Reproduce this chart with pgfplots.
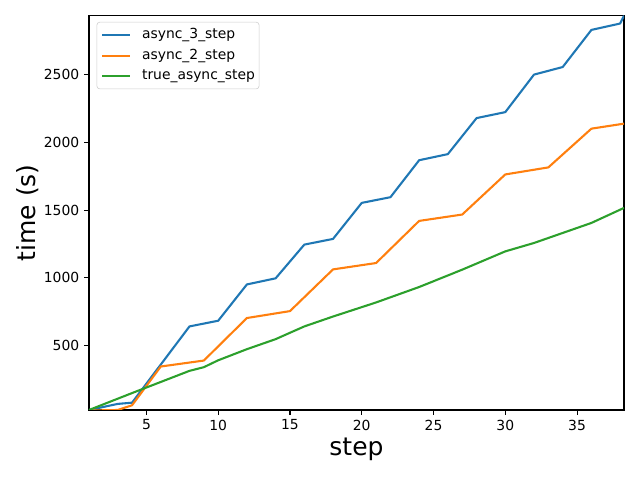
\documentclass[border=0pt]{standalone}
\usepackage{fontspec}
\setmainfont{DejaVu Sans}
\usepackage{pgfplots}
\pgfplotsset{compat=1.18}

\definecolor{tabblue}{HTML}{1F77B4}
\definecolor{taborange}{HTML}{FF7F0E}
\definecolor{tabgreen}{HTML}{2CA02C}

\begin{document}
\begin{tikzpicture}
	% page = 639 x 478 px at 0.72pt per px; axis box at (89,410)-(624,15.7) px
	\useasboundingbox (-64.08pt,-48.96pt) rectangle (396pt,295.2pt);
	\begin{axis}[
		at={(0,0)}, anchor=south west,
		scale only axis,
		width=385.2pt,
		height=283.9pt,
		xmin=1, xmax=38.27,
		ymin=24, ymax=2935,
		xtick={5,10,15,20,25,30,35},
		ytick={500,1000,1500,2000,2500},
		xtick pos=left, ytick pos=left,
		tick align=outside,
		major tick length=3.5pt,
		every tick/.style={black, line width=0.8pt},
		axis line style={line width=0.8pt},
		/pgf/number format/assume math mode=true,
		/pgf/number format/1000 sep={},
		tick label style={font=\fontsize{10}{12}\selectfont},
		xlabel={step},
		ylabel={time (s)},
		label style={font=\fontsize{18}{21.6}\selectfont},
		xlabel style={at={(axis description cs:0.5,-0.1166)}, anchor=base, inner sep=0pt},
		ylabel style={at={(axis description cs:-0.0992,0.5)}, anchor=base, inner sep=0pt},
		legend cell align=left,
		legend image code/.code={\draw[#1] (0pt,0pt) -- (20pt,0pt);},
		legend style={
			at={(axis description cs:0,1)}, anchor=north west,
			xshift=5.5pt, yshift=-4.5pt,
			draw=black!20, rounded corners=2pt,
			font=\fontsize{10}{12}\selectfont,
			inner xsep=3pt, inner ysep=4pt,
			row sep=5pt, column sep=8pt,
			nodes={inner sep=0pt, text height=7.5pt, text depth=2.5pt},
		},
		every axis plot/.append style={line width=1.5pt, line join=round},
		]
		\addplot[tabblue] coordinates {
			(1,24) (3,69) (4,78) (8,641) (10,683) (12,951) (14,996)
			(16,1245) (18,1287) (20,1553) (22,1595) (24,1868) (26,1913)
			(28,2179) (30,2223) (32,2500) (34,2556) (36,2830) (38,2877)
			(38.27,2935)
		};
		\addlegendentry{async\_3\_step}

		\addplot[taborange] coordinates {
			(1,20) (3,24) (4,59) (6,345) (9,389) (12,703) (15,754)
			(18,1062) (21,1109) (24,1420) (27,1467) (30,1763) (33,1815)
			(36,2101) (38.27,2138)
		};
		\addlegendentry{async\_2\_step}

		\addplot[tabgreen] coordinates {
			(1,24) (4,149) (8,313) (9,340) (10,391) (12,473) (14,547)
			(16,641) (18,714) (21,818) (24,932) (27,1060) (30,1195)
			(32,1257) (36,1405) (38.27,1516)
		};
		\addlegendentry{true\_async\_step}
	\end{axis}
\end{tikzpicture}
\end{document}
